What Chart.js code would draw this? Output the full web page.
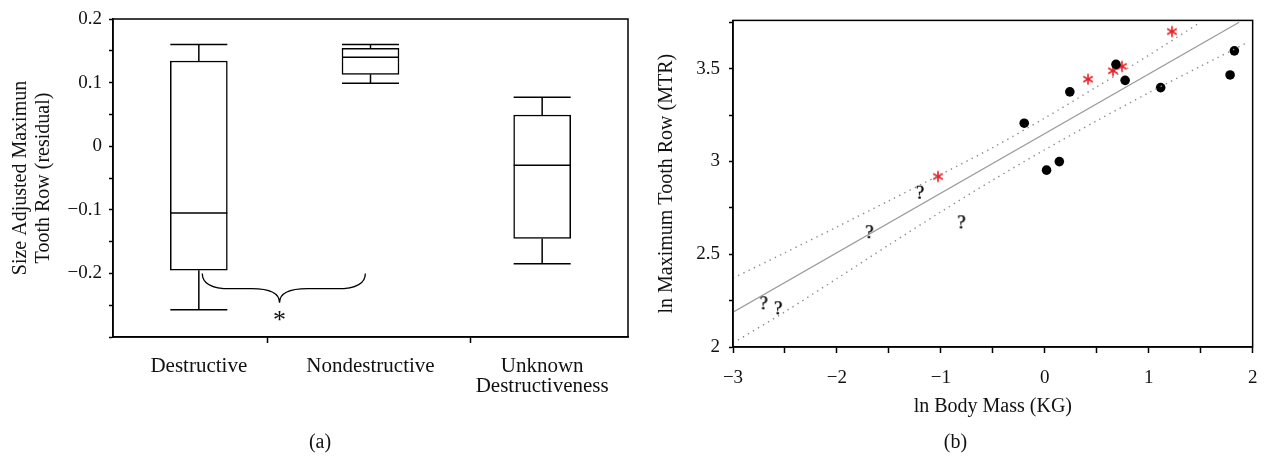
<!DOCTYPE html>
<html><head><meta charset="utf-8">
<script src="https://cdn.jsdelivr.net/npm/chart.js@4"></script>
<style>
html,body{margin:0;padding:0;background:#fff;overflow:hidden;width:1271px;height:456px}
#ca{position:absolute;left:0;top:0}
#cb{position:absolute;left:640px;top:0}
</style></head><body>
<canvas id="ca" width="640" height="456"></canvas>
<canvas id="cb" width="631" height="456"></canvas>
<script>
// ---------- Panel (a): box plot data ----------
const categories  = ['Destructive', 'Nondestructive', ['Unknown', 'Destructiveness']];
const whiskerLow  = [-0.257, 0.099, -0.185];
const boxLow      = [-0.195, 0.113, -0.145];
const medianVals  = [-0.105, 0.140, -0.030];
const boxHigh     = [0.134, 0.154, 0.049];
const whiskerHigh = [0.160, 0.160, 0.077];
const yTickValuesA = [-0.2, -0.1, 0, 0.1, 0.2];
const yTickLabelsA = ['\u22120.2', '\u22120.1', '0', '0.1', '0.2'];
const xTickMarksA  = [0.9, 2.08];
const braceNote = { from: 0.52, to: 1.47, tip: 0.97, top: -0.2, level: -0.224, point: -0.246, star: -0.265, text: '*' };

// ---------- Panel (b): scatter data ----------
const dotsX    = [-0.198, 0.241, 0.017, 0.140, 0.685, 0.773, 1.115, 1.783, 1.824];
const dotsY    = [3.206, 3.375, 2.953, 2.999, 3.523, 3.437, 3.398, 3.466, 3.596];
const starsX   = [-1.028, 0.416, 0.656, 0.742, 1.223];
const starsY   = [2.919, 3.443, 3.489, 3.512, 3.700];
const unknownX = [-2.706, -2.566, -1.689, -1.202, -0.803];
const unknownY = [2.241, 2.214, 2.624, 2.837, 2.677];
const fitX     = [-3, 1.87];
const fitY     = [2.187, 3.75];
const upperX   = [-3, -2.5, -2, -1.5, -1, -0.5, 0, 0.5, 1, 1.5];
const upperY   = [2.371, 2.508, 2.647, 2.788, 2.930, 3.075, 3.234, 3.402, 3.572, 3.751];
const lowerX   = [-3, -2.5, -2, -1.5, -1, -0.5, 0, 0.5, 1, 1.5, 1.95];
const lowerY   = [2.022, 2.190, 2.369, 2.550, 2.728, 2.900, 3.063, 3.219, 3.370, 3.513, 3.641];
const xTickValuesB = [-3, -2, -1, 0, 1, 2];
const xTickLabelsB = ['\u22123', '\u22122', '\u22121', '0', '1', '2'];
const yTickValuesB = [2, 2.5, 3, 3.5];
const yTickLabelsB = ['2', '2.5', '3', '3.5'];

const SERIF = '"Liberation Serif", "Times New Roman", serif';
const near = (a, b) => Math.abs(a - b) < 1e-6;
const pts = (xs, ys) => xs.map((x, i) => ({ x: x, y: ys[i] }));

const framePlugin = (label) => ({
  id: 'frame',
  afterDraw(chart) {
    const { ctx, chartArea: a } = chart;
    ctx.save();
    ctx.strokeStyle = '#000'; ctx.lineWidth = 1.5;
    ctx.strokeRect(a.left, a.top, a.right - a.left, a.bottom - a.top);
    ctx.fillStyle = '#111';
    ctx.font = '20px ' + SERIF;
    ctx.textAlign = 'center'; ctx.textBaseline = 'middle';
    ctx.fillText(label, chart.width / 2, 443);
    ctx.restore();
  }
});

const boxPlugin = {
  id: 'boxExtras',
  afterDatasetsDraw(chart) {
    const ctx = chart.ctx, ys = chart.scales.y, xs = chart.scales.x;
    const meta = chart.getDatasetMeta(0);
    ctx.save();
    ctx.strokeStyle = '#000'; ctx.lineWidth = 1.5;
    const seg = (x1, y1, x2, y2) => { ctx.beginPath(); ctx.moveTo(x1, y1); ctx.lineTo(x2, y2); ctx.stroke(); };
    meta.data.forEach((bar, i) => {
      const p = bar.getProps(['x', 'width'], true);
      const h = p.width / 2, cx = p.x;
      const m = ys.getPixelForValue(medianVals[i]);
      const bl = ys.getPixelForValue(boxLow[i]), bh = ys.getPixelForValue(boxHigh[i]);
      const wl = ys.getPixelForValue(whiskerLow[i]), wh = ys.getPixelForValue(whiskerHigh[i]);
      seg(cx - h, m, cx + h, m);
      seg(cx, bh, cx, wh); seg(cx - h, wh, cx + h, wh);
      seg(cx, bl, cx, wl); seg(cx - h, wl, cx + h, wl);
    });
    // brace annotation
    const X0 = xs.getPixelForValue(braceNote.from), X1 = xs.getPixelForValue(braceNote.to);
    const XM = xs.getPixelForValue(braceNote.tip);
    const Y0 = ys.getPixelForValue(braceNote.top), Y1 = ys.getPixelForValue(braceNote.level);
    const YT = ys.getPixelForValue(braceNote.point);
    const q = 28;
    ctx.lineWidth = 1.3;
    ctx.beginPath();
    ctx.moveTo(X0, Y0);
    ctx.quadraticCurveTo(X0, Y1, X0 + q, Y1);
    ctx.lineTo(XM - q, Y1);
    ctx.quadraticCurveTo(XM, Y1, XM, YT);
    ctx.moveTo(X1, Y0);
    ctx.quadraticCurveTo(X1, Y1, X1 - q, Y1);
    ctx.lineTo(XM + q, Y1);
    ctx.quadraticCurveTo(XM, Y1, XM, YT);
    ctx.stroke();
    ctx.fillStyle = '#111';
    ctx.font = '26px ' + SERIF;
    ctx.textAlign = 'center'; ctx.textBaseline = 'alphabetic';
    ctx.fillText(braceNote.text, XM, ys.getPixelForValue(braceNote.star) + 13);
    ctx.restore();
  }
};

new Chart(document.getElementById('ca'), {
  type: 'bar',
  data: {
    datasets: [{
      data: categories.map((c, i) => ({ x: i + 0.5, y: [boxLow[i], boxHigh[i]] })),
      backgroundColor: '#fff', borderColor: '#000', borderWidth: 1.5,
      borderSkipped: false, barThickness: 57
    }]
  },
  options: {
    responsive: false, animation: false,
    layout: { padding: { top: 19, right: 12, left: 0, bottom: 0 } },
    plugins: { legend: { display: false }, tooltip: { enabled: false } },
    scales: {
      x: {
        type: 'linear', min: 0, max: 3, offset: false,
        afterBuildTicks: s => {
          s.ticks = categories.map((c, i) => ({ value: i + 0.5 })).concat(xTickMarksA.map(v => ({ value: v })));
        },
        afterFit: s => { s.height = 119; },
        ticks: {
          autoSkip: false, maxRotation: 0, padding: 14, color: '#111',
          font: { family: SERIF, size: 21, lineHeight: 0.95 },
          callback: (v) => { const i = categories.findIndex((c, k) => near(k + 0.5, v)); return i >= 0 ? categories[i] : ''; }
        },
        grid: {
          offset: false, drawOnChartArea: false, tickLength: 6, tickWidth: 1.5,
          tickColor: c => (xTickMarksA.some(v => near(v, c.tick.value)) ? '#000' : 'rgba(0,0,0,0)')
        },
        border: { color: '#000', width: 1.5 }
      },
      y: {
        type: 'linear', min: -0.3, max: 0.2,
        afterBuildTicks: s => { const t = []; for (let k = -6; k <= 4; k++) t.push({ value: k / 20 }); s.ticks = t; },
        afterFit: s => { s.width = 113; },
        ticks: {
          padding: 7, color: '#111', font: { family: SERIF, size: 19 },
          callback: (v) => { const i = yTickValuesA.findIndex(t => near(t, v)); return i >= 0 ? yTickLabelsA[i] : ''; }
        },
        grid: { drawOnChartArea: false, tickLength: 4, tickWidth: 1.5, tickColor: '#000' },
        border: { color: '#000', width: 1.5 },
        title: {
          display: true, text: ['Size Adjusted Maximun', 'Tooth Row (residual)'], color: '#111',
          font: { family: SERIF, size: 20, lineHeight: 1.15 }, padding: { top: 9.5, bottom: 0 }
        }
      }
    }
  },
  plugins: [boxPlugin, framePlugin('(a)')]
});

// ---- point style images for panel (b) ----
function questionMark() {
  const c = document.createElement('canvas'); c.width = 16; c.height = 22;
  const g = c.getContext('2d');
  g.fillStyle = '#000'; g.font = '19px ' + SERIF; g.textAlign = 'center'; g.textBaseline = 'alphabetic';
  g.fillText('?', 8, 17.5);
  g.fillText('?', 8.3, 17.5);
  return c;
}
function redAsterisk() {
  const c = document.createElement('canvas'); c.width = 14; c.height = 14;
  const g = c.getContext('2d');
  g.strokeStyle = 'rgb(236,28,36)'; g.lineWidth = 1.6; g.lineCap = 'butt';
  const r = 5.5;
  [90, 30, 150].forEach(a => {
    const t = a * Math.PI / 180, dx = Math.cos(t) * r, dy = Math.sin(t) * r;
    g.beginPath(); g.moveTo(7 - dx, 7 - dy); g.lineTo(7 + dx, 7 + dy); g.stroke();
  });
  return c;
}

new Chart(document.getElementById('cb'), {
  type: 'scatter',
  data: {
    datasets: [
      { type: 'line', data: pts(fitX, fitY), borderColor: '#9a9a9a', borderWidth: 1.3, pointRadius: 0, fill: false, tension: 0 },
      { type: 'line', data: pts(upperX, upperY), borderColor: '#8c8c8c', borderWidth: 1.4, borderDash: [1.4, 4.4], pointRadius: 0, fill: false, tension: 0.3 },
      { type: 'line', data: pts(lowerX, lowerY), borderColor: '#8c8c8c', borderWidth: 1.4, borderDash: [1.4, 4.4], pointRadius: 0, fill: false, tension: 0.3 },
      { data: pts(dotsX, dotsY), pointStyle: 'circle', pointRadius: 4.8, backgroundColor: '#000', borderWidth: 0 },
      { data: pts(starsX, starsY), pointStyle: redAsterisk(), pointRadius: 6 },
      { data: pts(unknownX, unknownY), pointStyle: questionMark(), pointRadius: 8 }
    ]
  },
  options: {
    responsive: false, animation: false,
    layout: { padding: { top: 17, right: 13, left: 0, bottom: 0 } },
    plugins: { legend: { display: false }, tooltip: { enabled: false } },
    scales: {
      x: {
        type: 'linear', min: -3, max: 2,
        afterBuildTicks: s => { const t = []; for (let k = -6; k <= 4; k++) t.push({ value: k / 2 }); s.ticks = t; },
        afterFit: s => { s.height = 109; },
        ticks: {
          autoSkip: false, maxRotation: 0, padding: 13.6, color: '#111', font: { family: SERIF, size: 19 },
          callback: (v) => { const i = xTickValuesB.findIndex(t => near(t, v)); return i >= 0 ? xTickLabelsB[i] : ''; }
        },
        grid: { drawOnChartArea: false, tickLength: 6, tickWidth: 1.5, tickColor: '#000' },
        border: { color: '#000', width: 1.5 },
        title: { display: true, text: 'ln Body Mass (KG)', color: '#111', font: { family: SERIF, size: 20 }, padding: { top: 0, bottom: 37 } }
      },
      y: {
        type: 'linear', min: 2, max: 3.76,
        afterBuildTicks: s => { const t = []; for (let k = 8; k <= 15; k++) t.push({ value: k / 4 }); s.ticks = t; },
        afterFit: s => { s.width = 93; },
        ticks: {
          padding: 9, color: '#111', font: { family: SERIF, size: 19 },
          callback: (v) => { const i = yTickValuesB.findIndex(t => near(t, v)); return i >= 0 ? yTickLabelsB[i] : ''; }
        },
        grid: { drawOnChartArea: false, tickLength: 4, tickWidth: 1.5, tickColor: '#000' },
        border: { color: '#000', width: 1.5 },
        title: { display: true, text: 'ln Maximum Tooth Row (MTR)', color: '#111', font: { family: SERIF, size: 20 }, padding: { top: 15, bottom: 0 } }
      }
    }
  },
  plugins: [framePlugin('(b)')]
});
</script>
</body></html>
